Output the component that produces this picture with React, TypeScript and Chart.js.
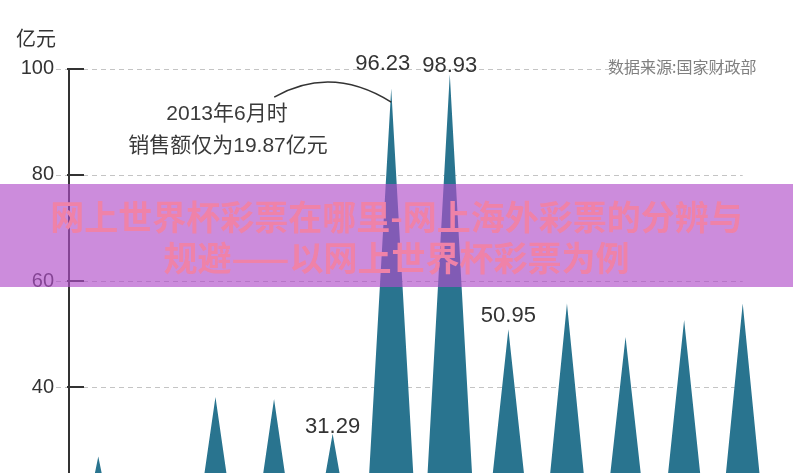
import React, { useEffect, useRef } from "react";
import { Chart, registerables } from "chart.js";

Chart.register(...registerables);

// Monthly online World Cup lottery sales (亿元)
const categories = [
  "1月", "2月", "3月", "4月", "5月", "6月",
  "7月", "8月", "9月", "10月", "11月", "12月",
];
const sales = [27, 19.87, 38.2, 37.8, 31.29, 96.23, 98.93, 50.95, 55.8, 49.5, 52.7, 55.8];
const labelledIndexes = [4, 5, 6, 7];
const yTicks = [0, 20, 40, 60, 80, 100];
const unitLabel = "亿元";
const sourceText = "数据来源:国家财政部";
const noteLines = ["2013年6月时", "销售额仅为19.87亿元"];
const bannerLines = ["网上世界杯彩票在哪里-网上海外彩票的分辨与", "规避——以网上世界杯彩票为例"];

const TEAL = "#29748f";
const DARK = "#333333";
const LATIN = "'Liberation Sans', 'Noto Sans CJK SC', sans-serif";

const decorPlugin = {
  id: "decor",
  beforeDatasetsDraw(chart: any) {
    const { ctx, scales } = chart;
    const y = scales.y;
    const x = scales.x;
    const left = chart.chartArea.left - 13;
    const right = x.getPixelForValue(sales.length - 1);
    ctx.save();
    ctx.strokeStyle = "#c4c4c4";
    ctx.lineWidth = 1;
    ctx.setLineDash([5, 4]);
    y.ticks.forEach((t: any) => {
      const py = Math.round(y.getPixelForValue(t.value)) + 0.5;
      ctx.beginPath();
      ctx.moveTo(left, py);
      ctx.lineTo(right, py);
      ctx.stroke();
    });
    ctx.restore();
  },
  afterDatasetsDraw(chart: any) {
    const { ctx, scales, chartArea } = chart;
    const y = scales.y;
    const x = scales.x;
    ctx.save();
    // inward tick marks
    ctx.strokeStyle = DARK;
    ctx.lineWidth = 2;
    y.ticks.forEach((t: any) => {
      const py = Math.round(y.getPixelForValue(t.value));
      ctx.beginPath();
      ctx.moveTo(chartArea.left - 2, py);
      ctx.lineTo(chartArea.left + 15, py);
      ctx.stroke();
    });

    // value labels
    const offsets: Record<number, [number, number]> = {
      4: [0, -1],
      5: [-8.5, -18.5],
      6: [0, -2],
      7: [0, -7.5],
    };
    ctx.fillStyle = DARK;
    ctx.font = `22px ${LATIN}`;
    ctx.textAlign = "center";
    ctx.textBaseline = "alphabetic";
    labelledIndexes.forEach((i) => {
      const px = x.getPixelForValue(i);
      const py = y.getPixelForValue(sales[i]);
      const [dx, dy] = offsets[i] || [0, -4];
      ctx.fillText(sales[i].toFixed(2), px + dx, py + dy);
    });

    // curved pointer to the 96.23 spike
    const ax = x.getPixelForValue(5);
    const ay = y.getPixelForValue(sales[5]);
    ctx.strokeStyle = DARK;
    ctx.lineWidth = 1.5;
    ctx.beginPath();
    ctx.moveTo(ax - 117, ay + 8.5);
    ctx.quadraticCurveTo(ax - 60, ay - 24, ax, ay + 13.5);
    ctx.stroke();

    // note text
    ctx.font = `21px ${LATIN}`;
    ctx.fillStyle = "#3a3a3a";
    ctx.textBaseline = "middle";
    ctx.textAlign = "center";
    ctx.fillText(noteLines[0], 227, 114);
    ctx.fillText(noteLines[1], 228, 146);

    // unit
    ctx.textAlign = "left";
    ctx.font = `20px 'Noto Sans CJK SC', sans-serif`;
    ctx.fillStyle = DARK;
    ctx.fillText(unitLabel, 16, 38);

    // source
    ctx.font = `16px 'Noto Sans CJK SC', sans-serif`;
    ctx.fillStyle = "#808080";
    ctx.fillText(sourceText, 608, 67);
    ctx.restore();
  },
};

export default function App() {
  const ref = useRef<HTMLCanvasElement | null>(null);

  useEffect(() => {
    if (!ref.current) return;
    const points: { x: number; y: number }[] = [];
    sales.forEach((v, i) => {
      if (i === 0) points.push({ x: i - 0.5, y: 0 });
      points.push({ x: i, y: v });
      points.push({ x: i + 0.5, y: 0 });
    });
    const chart = new Chart(ref.current, {
      type: "line",
      data: {
        labels: categories,
        datasets: [
          {
            label: "销售额",
            data: points,
            parsing: false,
            fill: "origin",
            backgroundColor: TEAL,
            borderColor: TEAL,
            borderWidth: 0,
            pointRadius: 0,
            tension: 0,
          } as any,
        ],
      },
      options: {
        responsive: false,
        animation: false,
        events: [],
        layout: { padding: { top: 68.5, right: 21, bottom: 0, left: 0 } },
        plugins: {
          legend: { display: false },
          tooltip: { enabled: false },
          title: { display: false },
        },
        scales: {
          x: {
            type: "linear",
            min: -0.5,
            max: sales.length - 0.5,
            display: false,
          },
          y: {
            type: "linear",
            min: 0,
            max: 100,
            afterBuildTicks: (s: any) => {
              s.ticks = yTicks.map((v) => ({ value: v }));
            },
            afterFit: (s: any) => {
              s.width = 69;
              s.paddingTop = 0;
              s.paddingBottom = 0;
            },
            grid: { display: false, drawTicks: false },
            border: { display: true, color: DARK, width: 2 },
            ticks: {
              padding: 15,
              color: DARK,
              font: { family: "'Liberation Sans', sans-serif", size: 20 },
            },
          },
        },
      },
      plugins: [decorPlugin],
    });
    return () => chart.destroy();
  }, []);

  return (
    <div
      style={{
        position: "absolute",
        left: 0,
        top: 0,
        width: 793,
        height: 473,
        overflow: "hidden",
        background: "#fff",
      }}
    >
      <canvas ref={ref} width={793} height={600} style={{ display: "block" }} />
      <div
        style={{
          position: "absolute",
          left: 0,
          top: 184,
          width: 793,
          height: 103,
          background: "rgba(177, 78, 201, 0.65)",
          display: "flex",
          flexDirection: "column",
          alignItems: "center",
          justifyContent: "center",
          fontFamily: "'Noto Sans CJK SC', sans-serif",
          fontWeight: 700,
          fontSize: 34,
          lineHeight: "41px",
          color: "#ef82a8",
          textAlign: "center",
          whiteSpace: "nowrap",
        }}
      >
        <div>{bannerLines[0]}</div>
        <div>{bannerLines[1]}</div>
      </div>
    </div>
  );
}
